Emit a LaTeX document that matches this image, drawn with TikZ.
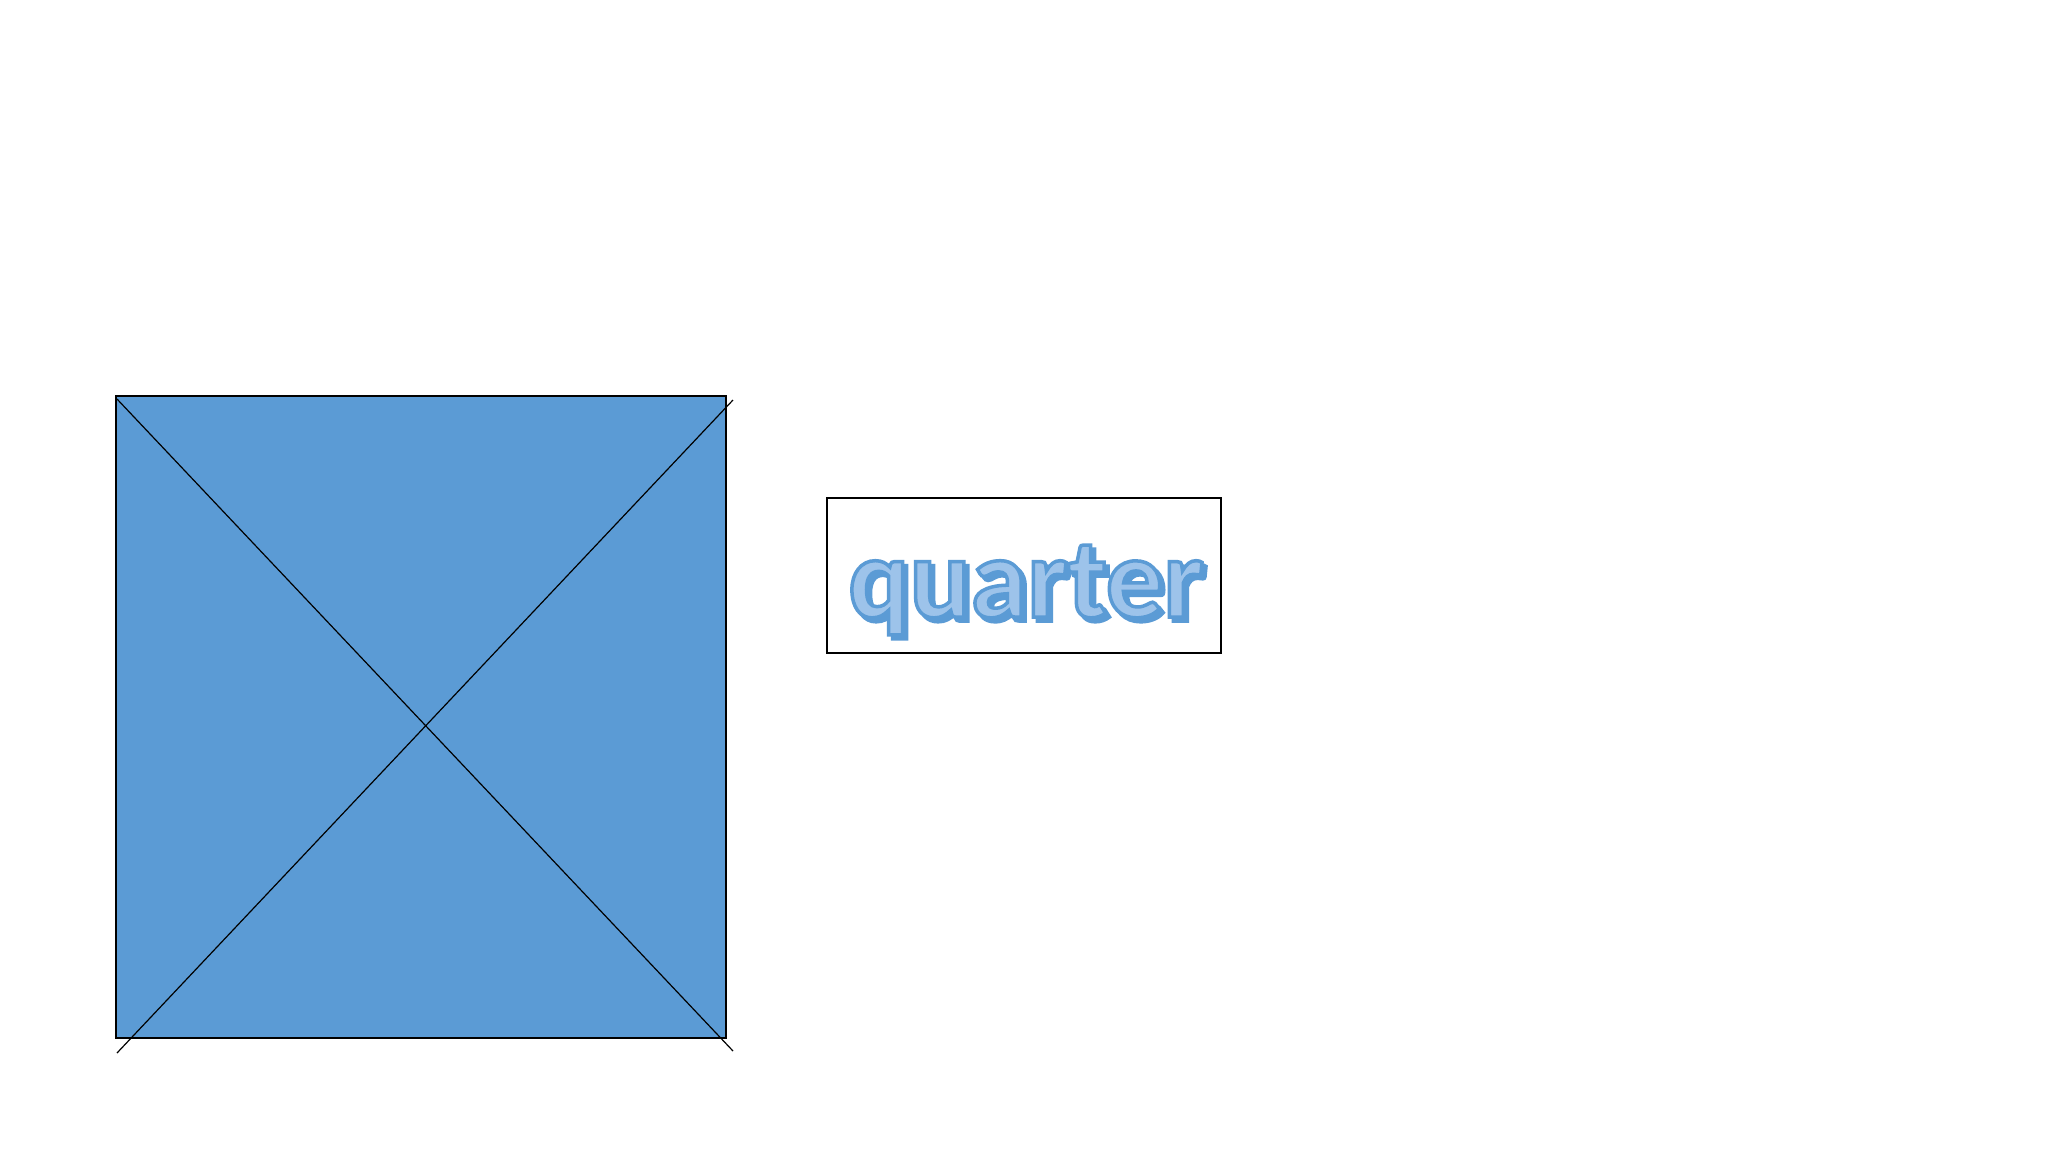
\documentclass[tikz,border=0pt]{standalone}
\usepackage{fontspec}
\newfontfamily\qfont{Carlito}
\definecolor{sqblue}{HTML}{5B9BD5}
\definecolor{txtlight}{HTML}{9DC3EA}
\newcommand{\outlinedword}[1]{%
  \rlap{\hspace{4pt}\raisebox{-4pt}{\color{sqblue}\special{pdf:literal direct 0.357 0.608 0.835 RG 3.5 w 2 Tr}#1\special{pdf:literal direct 0 Tr}}}%
  {\color{txtlight}\special{pdf:literal direct 0.357 0.608 0.835 RG 3.5 w 2 Tr}#1\special{pdf:literal direct 0 Tr}}}
\begin{document}
\begin{tikzpicture}[x=1pt,y=-1pt,
  sq/.style={draw=black,line width=2pt,fill=sqblue},
  diag/.style={draw=black,line width=1.2pt},
  tbox/.style={draw=black,line width=1.4pt,fill=white},
  qtext/.style={inner sep=0pt,anchor=base,font=\qfont\bfseries\fontsize{114}{114}\selectfont}]
\useasboundingbox (0,0) rectangle (2048,1152);
\fill[white] (0,0) rectangle (2048,1152);
\draw[sq] (116,396) rectangle (726,1038);
\coordinate (tl) at (117,399);
\coordinate (br) at (733,1051);
\coordinate (bl) at (117,1053);
\coordinate (tr) at (733,400);
\draw[diag] (tl) -- (br);
\draw[diag] (bl) -- (tr);
\draw[tbox] (827,498) rectangle (1221,653);
\node[qtext] (q) at (1026,617) {\outlinedword{quarter}};
\end{tikzpicture}
\end{document}
